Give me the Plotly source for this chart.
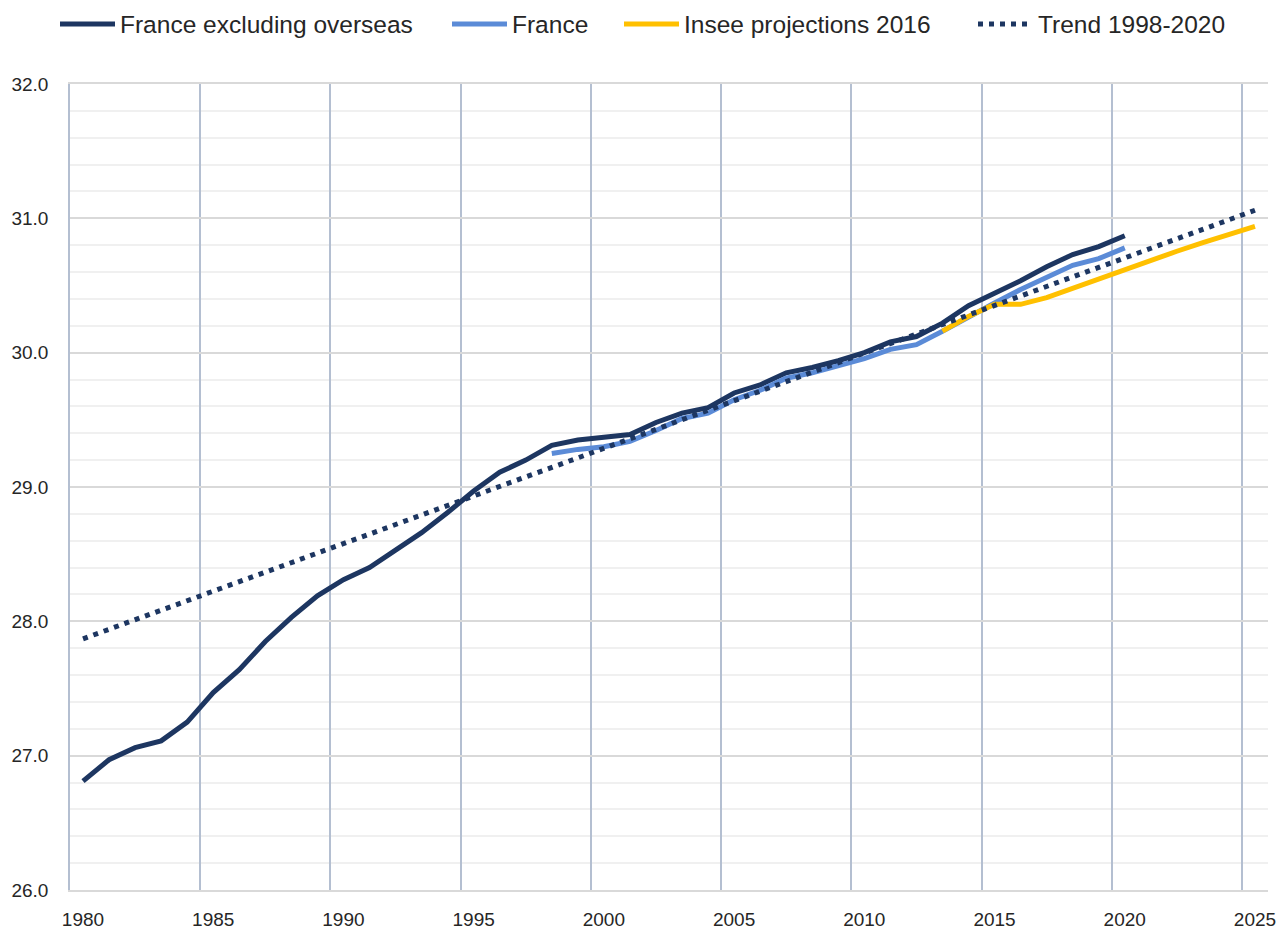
import plotly.graph_objects as go

# ---- data ----
years_metro = list(range(1980, 2021))
france_metro = [26.81, 26.97, 27.06, 27.11, 27.25, 27.47, 27.64, 27.85, 28.03, 28.19,
                28.31, 28.40, 28.53, 28.66, 28.81, 28.97, 29.11, 29.20, 29.31, 29.35,
                29.37, 29.39, 29.48, 29.55, 29.59, 29.70, 29.76, 29.85, 29.89, 29.94,
                30.00, 30.08, 30.12, 30.22, 30.35, 30.44, 30.535, 30.64, 30.73, 30.79, 30.87]

years_france = list(range(1998, 2021))
france = [29.25, 29.28, 29.30, 29.34, 29.42, 29.51, 29.55, 29.65, 29.72, 29.81,
          29.85, 29.90, 29.955, 30.025, 30.06, 30.16, 30.27, 30.37, 30.47, 30.56,
          30.65, 30.70, 30.78]

years_insee = list(range(2013, 2026))
insee = [30.16, 30.27, 30.36, 30.36, 30.41, 30.48, 30.55, 30.62, 30.69, 30.755,
         30.82, 30.88, 30.94]

years_trend = [1980, 2025]
trend = [27.87, 31.06]

tick_years = [1980, 1985, 1990, 1995, 2000, 2005, 2010, 2015, 2020, 2025]

MID = 0.5  # yearly values plotted at mid-year

NAVY = "#1D3661"
LIGHT = "#5B8BD7"
YELLOW = "#FFC000"
TXT = "#262626"
FONT = "Liberation Sans"
VGRID = "#B4BFD1"
HGRID = "#D9D9D9"

fig = go.Figure()
fig.add_trace(go.Scatter(x=[y + MID for y in years_metro], y=france_metro, mode="lines",
                         name="France excluding overseas", line=dict(color=NAVY, width=5),
                         legend="legend"))
fig.add_trace(go.Scatter(x=[y + MID for y in years_france], y=france, mode="lines",
                         name="France", line=dict(color=LIGHT, width=5), legend="legend2"))
fig.add_trace(go.Scatter(x=[y + MID for y in years_insee], y=insee, mode="lines",
                         name="Insee projections 2016", line=dict(color=YELLOW, width=5),
                         legend="legend3"))
fig.add_trace(go.Scatter(x=[y + MID for y in years_trend], y=trend, mode="lines",
                         name="Trend 1998-2020",
                         line=dict(color=NAVY, width=5, dash="5px,6px"),
                         legend="legend4"))

W, H = 1279, 931

def leg(px):
    return dict(x=px / W, xref="container", xanchor="left",
                y=1 - 24 / H, yref="container", yanchor="middle",
                orientation="h", font=dict(family=FONT, size=24.5, color=TXT),
                bgcolor="rgba(0,0,0,0)", itemwidth=55, borderwidth=0)

fig.update_layout(
    width=W, height=H,
    margin=dict(l=70, r=11, t=84, b=41),
    paper_bgcolor="white", plot_bgcolor="white",
    font=dict(family=FONT, size=19, color=TXT),
    showlegend=True,
    legend=leg(55), legend2=leg(447), legend3=leg(619), legend4=leg(973),
    xaxis=dict(range=[1980, 2026], tickvals=tick_years, ticktext=[str(t) for t in tick_years],
               showgrid=True, gridcolor=VGRID, gridwidth=1.5, zeroline=False,
               showline=True, linecolor=HGRID, linewidth=1.5, mirror=True,
               ticks="", ticklabelshift=13, ticklabelstandoff=11, automargin=False,
               tickfont=dict(family=FONT, size=19, color=TXT), fixedrange=True),
    yaxis=dict(range=[26, 32], dtick=1, tick0=26, tickformat=".1f",
               showgrid=True, gridcolor=HGRID, gridwidth=1.5, zeroline=False,
               showline=True, linecolor=VGRID, linewidth=1.5, mirror=False,
               ticks="", ticklabelstandoff=16, automargin=False,
               minor=dict(dtick=0.2, showgrid=True, gridcolor="#F0F0F0", gridwidth=1.5),
               tickfont=dict(family=FONT, size=19, color=TXT), fixedrange=True),
)

fig.write_html(
    "out.html",
    config={"displayModeBar": False},
    post_script="document.body.style.margin='0';document.body.style.overflow='hidden';",
)
